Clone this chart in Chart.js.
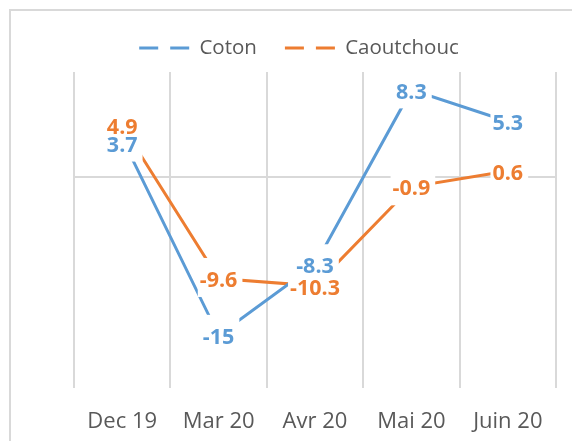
<!DOCTYPE html>
<html>
<head>
<meta charset="utf-8">
<script src="https://cdn.jsdelivr.net/npm/chart.js@4"></script>
<style>
  html, body { margin: 0; padding: 0; background: #fff; }
</style>
</head>
<body>
<canvas id="chart" width="572" height="441"></canvas>
<script>
const months = ["Dec 19", "Mar 20", "Avr 20", "Mai 20", "Juin 20"];
const coton = [3.7, -15, -8.3, 8.3, 5.3];
const caoutchouc = [4.9, -9.6, -10.3, -0.9, 0.6];
const seriesNames = ["Coton", "Caoutchouc"];
const seriesColors = ["#5B9BD5", "#ED7D31"];
const yMin = -20;
const yMax = 10;

const FONT = "'Open Sans', sans-serif";
const TEXT_GREY = "#595959";
const GRID_GREY = "#d9d9d9";

// light frame round the chart (its right and bottom edges fall outside the picture)
const framePlugin = {
  id: "frame",
  beforeDraw(chart) {
    const ctx = chart.ctx;
    ctx.save();
    ctx.fillStyle = "#fff";
    ctx.fillRect(0, 0, chart.width, chart.height);
    ctx.strokeStyle = GRID_GREY;
    ctx.lineWidth = 2;
    ctx.beginPath();
    ctx.moveTo(10, chart.height);
    ctx.lineTo(10, 10);
    ctx.lineTo(chart.width, 10);
    ctx.stroke();
    ctx.restore();
  }
};

// value labels centred on each point, on a white box that hides the line under it
const valueLabels = {
  id: "valueLabels",
  afterDatasetsDraw(chart) {
    const ctx = chart.ctx;
    const size = 21.5;
    const capH = size * 0.714;
    ctx.save();
    ctx.font = `bold ${size}px ${FONT}`;
    const items = [];
    chart.data.datasets.forEach((ds, i) => {
      chart.getDatasetMeta(i).data.forEach((pt, j) => {
        const text = String(ds.data[j]);
        items.push({ text, color: ds.borderColor, x: pt.x, y: pt.y + 1, w: ctx.measureText(text).width });
      });
    });
    // top to bottom; a label that runs into one above it is pushed down
    items.sort((a, b) => a.y - b.y);
    const placed = [];
    items.forEach(it => {
      placed.forEach(p => {
        if (Math.abs(it.x - p.x) < (it.w + p.w) / 2 && it.y - p.y < capH + 2) {
          it.y = p.y + capH + 2;
        }
      });
      placed.push(it);
    });
    // box like a text frame: room for ascent above, descent below, tight at the sides
    ctx.fillStyle = "#fff";
    items.forEach(it => ctx.fillRect(it.x - it.w / 2 - 2, it.y - 21.5, it.w + 7, 39));
    ctx.textAlign = "center";
    ctx.textBaseline = "alphabetic";
    items.forEach(it => {
      ctx.fillStyle = it.color;
      ctx.fillText(it.text, it.x, it.y + capH / 2);
    });
    ctx.restore();
  }
};

const ctx = document.getElementById("chart").getContext("2d");
new Chart(ctx, {
  type: "line",
  data: {
    labels: months,
    datasets: [
      { label: seriesNames[0], data: coton, borderColor: seriesColors[0], backgroundColor: seriesColors[0] },
      { label: seriesNames[1], data: caoutchouc, borderColor: seriesColors[1], backgroundColor: seriesColors[1] }
    ]
  },
  options: {
    responsive: false,
    animation: false,
    layout: { padding: { left: 42, right: 16, top: 9.75, bottom: 0 } },
    elements: {
      line: { borderWidth: 3, tension: 0, fill: false },
      point: { radius: 0, hoverRadius: 0 }
    },
    plugins: {
      tooltip: { enabled: false },
      // empty title used as a small gap between legend and plot
      title: { display: true, text: "", weight: 500, padding: 0, font: { size: 3.75, lineHeight: 1 } },
      legend: {
        position: "top",
        labels: {
          font: { family: FONT, size: 20.5 },
          color: TEXT_GREY,
          usePointStyle: true,
          pointStyleWidth: 50,
          padding: 28,
          generateLabels(chart) {
            const items = Chart.defaults.plugins.legend.labels.generateLabels(chart);
            items.forEach(it => {
              it.pointStyle = "line";
              it.lineDash = [19, 12];
              it.lineWidth = 3;
            });
            return items;
          }
        }
      }
    },
    scales: {
      x: {
        offset: true,
        grid: { offset: true, color: GRID_GREY, lineWidth: 2, drawTicks: false },
        border: { display: false },
        ticks: { font: { family: FONT, size: 22 }, color: TEXT_GREY, padding: 21, maxRotation: 0 },
        afterFit(scale) { scale.height = 53; }
      },
      y: {
        min: yMin,
        max: yMax,
        ticks: { display: false, stepSize: 5 },
        grid: {
          drawTicks: false,
          lineWidth: 2,
          color: c => (c.tick && c.tick.value === 0 ? GRID_GREY : "rgba(0,0,0,0)")
        },
        border: { display: false },
        afterFit(scale) { scale.width = 32; }
      }
    }
  },
  plugins: [framePlugin, valueLabels]
});
</script>
</body>
</html>
